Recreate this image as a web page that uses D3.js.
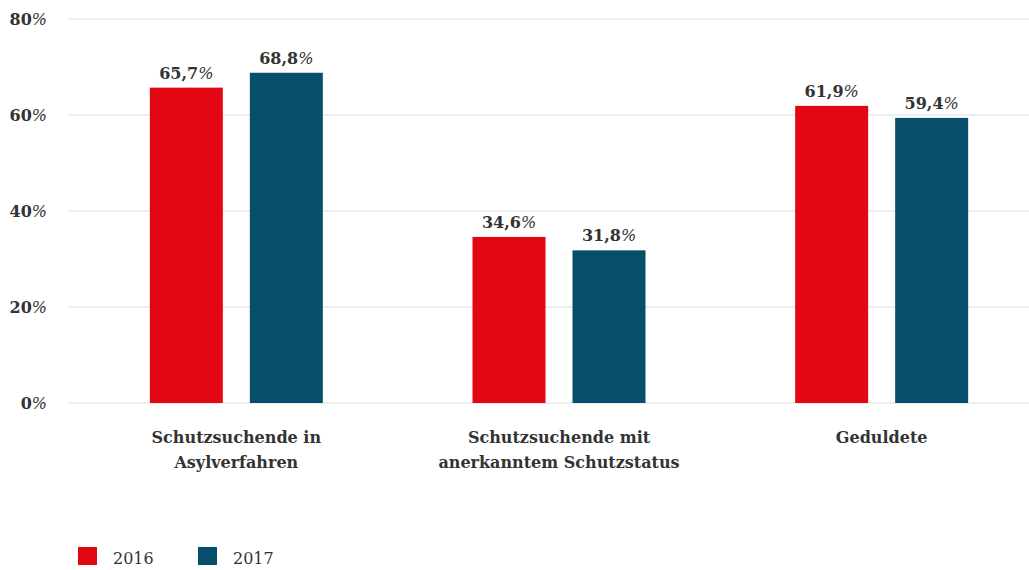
<!DOCTYPE html>
<html>
<head>
<meta charset="utf-8">
<script src="https://cdn.jsdelivr.net/npm/d3@7"></script>
<style>
  body { margin: 0; background: #fff; }
  text { font-family: "DejaVu Serif", "Liberation Serif", serif; fill: #333; }
</style>
</head>
<body>
<div id="chart"></div>
<script>
/* DATA */
const categories = [
  ["Schutzsuchende in", "Asylverfahren"],
  ["Schutzsuchende mit", "anerkanntem Schutzstatus"],
  ["Geduldete"]
];
const years = ["2016", "2017"];
const values2016 = [65.7, 34.6, 61.9];
const values2017 = [68.8, 31.8, 59.4];
const yTicks = [0, 20, 40, 60, 80];

/* CONSTANTS */
const width = 1029,
  height = 570,
  fontSize = 16,
  colors = { "2016": "#e30613", "2017": "#054f6a" };

const rows = categories.map((c, i) => ({
  key: i,
  label: c,
  vals: [{ year: "2016", v: values2016[i] }, { year: "2017", v: values2017[i] }]
}));

const svg = d3.select("#chart").append("svg")
  .attr("width", width)
  .attr("height", height);

// scales
const x0 = d3.scaleBand()
  .domain(rows.map(d => d.key))
  .range([75, 1043]);

const x1 = d3.scaleBand()
  .domain(years)
  .range([0, 173])
  .paddingInner(0.27);

const y = d3.scaleLinear()
  .domain([0, 80])
  .range([403, 19]);

const fmt = v => d3.format(".1f")(v).replace(".", ",");

// gridlines + y labels
const grid = svg.append("g");
grid.selectAll("line")
  .data(yTicks)
  .join("line")
  .attr("x1", 68)
  .attr("x2", width)
  .attr("y1", d => y(d))
  .attr("y2", d => y(d))
  .attr("stroke", "#dcdcdc")
  .attr("stroke-width", 1);

const yl = grid.selectAll("text")
  .data(yTicks)
  .join("text")
  .attr("x", 47)
  .attr("y", d => y(d) + 6)
  .attr("text-anchor", "end")
  .attr("font-size", fontSize)
  .attr("font-weight", "bold");
yl.append("tspan").text(d => d);
yl.append("tspan").attr("font-weight", "normal").attr("font-style", "italic").text("%");

// bars
const groups = svg.append("g").selectAll("g")
  .data(rows)
  .join("g")
  .attr("transform", d => `translate(${x0(d.key) + (x0.bandwidth() - 173) / 2},0)`);

groups.selectAll("rect")
  .data(d => d.vals)
  .join("rect")
  .attr("x", d => x1(d.year))
  .attr("width", x1.bandwidth())
  .attr("y", d => y(d.v))
  .attr("height", d => y(0) - y(d.v))
  .attr("fill", d => colors[d.year]);

const vl = groups.selectAll("text.val")
  .data(d => d.vals)
  .join("text")
  .attr("class", "val")
  .attr("x", d => x1(d.year) + x1.bandwidth() / 2)
  .attr("y", d => y(d.v) - 9)
  .attr("text-anchor", "middle")
  .attr("font-size", fontSize)
  .attr("font-weight", "bold");
vl.append("tspan").text(d => fmt(d.v));
vl.append("tspan").attr("font-weight", "normal").attr("font-style", "italic").text("%");

// category labels
const cl = svg.append("g").selectAll("text")
  .data(rows)
  .join("text")
  .attr("x", d => x0(d.key) + x0.bandwidth() / 2)
  .attr("y", 443)
  .attr("text-anchor", "middle")
  .attr("font-size", fontSize)
  .attr("font-weight", "bold");
cl.selectAll("tspan")
  .data(d => d.label)
  .join("tspan")
  .attr("x", function () { return this.parentNode.getAttribute("x"); })
  .attr("dy", (d, i) => i === 0 ? 0 : 25)
  .text(d => d);

// legend
const legend = svg.append("g").selectAll("g")
  .data(years)
  .join("g")
  .attr("transform", (d, i) => `translate(${78 + i * 120},547)`);
legend.append("rect")
  .attr("width", 19)
  .attr("height", 18)
  .attr("fill", d => colors[d]);
legend.append("text")
  .attr("x", 35)
  .attr("y", 17)
  .attr("font-size", fontSize)
  .text(d => d);
</script>
</body>
</html>
